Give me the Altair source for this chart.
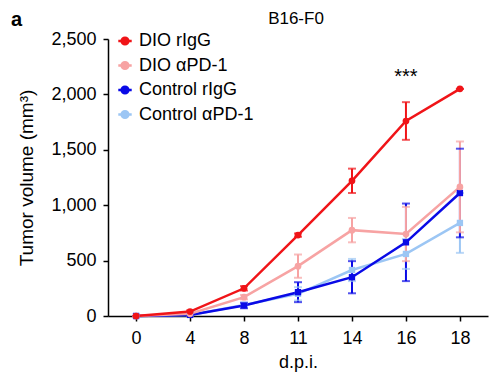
import altair as alt
import pandas as pd

days = [0, 4, 8, 11, 14, 16, 18]
series_names = ["DIO rIgG", "DIO αPD-1", "Control rIgG", "Control αPD-1"]
dio_rigg = [0, 40, 250, 730, 1220, 1760, 2050]
dio_rigg_err = [0, 10, 20, 15, 110, 170, 0]
dio_apd1 = [0, 20, 170, 450, 775, 740, 1165]
dio_apd1_err = [0, 5, 20, 105, 110, 245, 410]
ctrl_rigg = [0, 10, 95, 215, 350, 665, 1110]
ctrl_rigg_err = [0, 5, 25, 90, 145, 350, 400]
ctrl_apd1 = [0, 10, 100, 200, 415, 560, 840]
ctrl_apd1_err = [0, 5, 15, 60, 100, 135, 270]
colors = ["#f01418", "#f7a3a3", "#0a0ae6", "#9cc6f4"]

values = {
    "DIO rIgG": (dio_rigg, dio_rigg_err),
    "DIO αPD-1": (dio_apd1, dio_apd1_err),
    "Control rIgG": (ctrl_rigg, ctrl_rigg_err),
    "Control αPD-1": (ctrl_apd1, ctrl_apd1_err),
}
rows = []
for name in ["Control αPD-1", "Control rIgG", "DIO αPD-1", "DIO rIgG"]:
    v, e = values[name]
    for d, m, s in zip(days, v, e):
        rows.append({"day": str(d), "series": name, "mean": m, "lo": m - s, "hi": m + s,
                     "grp": "DIO" if name.startswith("DIO") else "Control"})
df = pd.DataFrame(rows)

day_labels = [str(d) for d in days]
font = "Liberation Sans"

xenc = alt.X("day:O", sort=day_labels, scale=alt.Scale(type="point", padding=0.52),
             axis=alt.Axis(title="d.p.i.", labelAngle=0))
legend = alt.Legend(title=None, orient="none", legendX=8, legendY=-7,
                    symbolType="M-1,0L1,0M-0.5,0A0.5,0.5 0 1,1 0.5,0A0.5,0.5 0 1,1 -0.5,0Z",
                    symbolSize=180, symbolStrokeWidth=2.5, symbolOpacity=1,
                    labelFontSize=18, labelFont=font, rowPadding=6.5,
                    labelOffset=5, labelColor="black")
color = alt.Color("series:N", scale=alt.Scale(domain=series_names, range=colors), legend=legend)

base = alt.Chart(df)
yscale = alt.Scale(domain=[0, 2500])
yaxis = alt.Axis(title="Tumor volume (mm³)", values=[0, 500, 1000, 1500, 2000, 2500],
                 format=",d")

rules = base.mark_rule(strokeWidth=2).encode(
    x=xenc, y=alt.Y("lo:Q", scale=yscale, axis=yaxis), y2="hi:Q", color=color)
caps_hi = base.mark_tick(thickness=2, size=8, orient="horizontal").encode(
    x=xenc, y=alt.Y("hi:Q", scale=yscale), color=color)
caps_lo = base.mark_tick(thickness=2, size=8, orient="horizontal").encode(
    x=xenc, y=alt.Y("lo:Q", scale=yscale), color=color)
lines = base.mark_line(strokeWidth=2.5).encode(
    x=xenc, y=alt.Y("mean:Q", scale=yscale), color=color)
pts_dio = base.transform_filter(alt.datum.grp == "DIO").mark_point(
    filled=True, size=45, opacity=1, shape="circle").encode(
    x=xenc, y=alt.Y("mean:Q", scale=yscale), color=color)
pts_ctrl = base.transform_filter(alt.datum.grp == "Control").mark_point(
    filled=True, size=40, opacity=1, shape="square").encode(
    x=xenc, y=alt.Y("mean:Q", scale=yscale), color=color)

ann = alt.Chart(pd.DataFrame({"day": ["16"], "v": [2160], "t": ["***"]})).mark_text(
    fontSize=20, font=font).encode(
    x=alt.X("day:O", sort=day_labels), y=alt.Y("v:Q", scale=yscale), text="t:N")

title = alt.Chart(pd.DataFrame({"t": ["B16-F0"]})).mark_text(
    fontSize=17, font=font, baseline="middle").encode(
    x=alt.value(188), y=alt.value(-20), text="t:N")
panel = alt.Chart(pd.DataFrame({"t": ["a"]})).mark_text(
    fontSize=20, font=font, fontWeight="bold", align="left", baseline="middle").encode(
    x=alt.value(-97), y=alt.value(-19), text="t:N")

chart = alt.layer(rules, caps_hi, caps_lo, lines, pts_ctrl, pts_dio, ann, title, panel).properties(
    width=380, height=277,
    autosize=alt.AutoSizeParams(type="none"),
    padding={"left": 100, "top": 31, "right": 8, "bottom": 64},
).configure_view(stroke=None).configure_axis(
    labelFont=font, titleFont=font, labelFontSize=18, titleFontSize=19,
    labelColor="black", titleColor="black", titleFontWeight="normal",
    domainColor="black", tickColor="black", domainWidth=1.5, tickWidth=1.5,
    tickSize=5, grid=False,
).configure_axisY(titlePadding=14, labelPadding=7).configure_axisX(
    titlePadding=6, labelPadding=8, titleFontSize=18)

chart.save("out.html", embed_options={"renderer": "svg", "actions": False})
